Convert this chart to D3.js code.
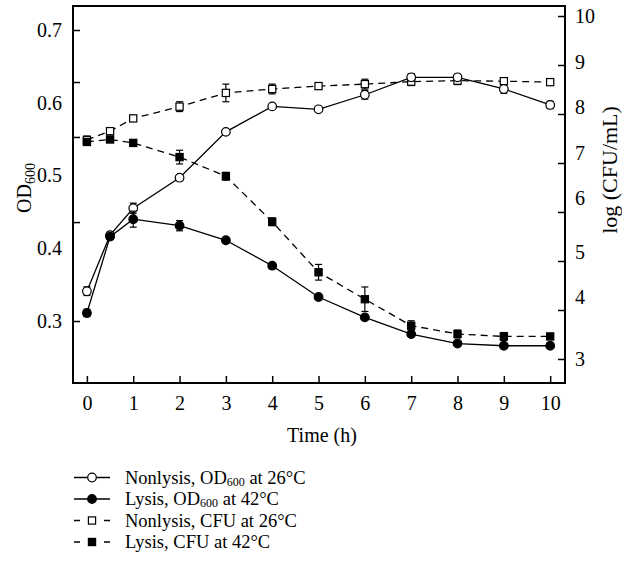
<!DOCTYPE html>
<html>
<head>
<meta charset="utf-8">
<script src="https://cdn.jsdelivr.net/npm/d3@7"></script>
<style>
body { margin: 0; background: #fff; }
svg { display: block; }
svg text { font-family: "Liberation Serif", Tinos, "Times New Roman", "DejaVu Serif", serif !important; fill: #000; }
</style>
</head>
<body>
<div id="main"></div>
<script>
// time points (h)
const hours = [0, 0.5, 1, 2, 3, 4, 5, 6, 7, 8, 9, 10]

// OD600 (left axis)
const nonlysisOD = [0.341, 0.418, 0.455, 0.497, 0.560, 0.595, 0.591, 0.611, 0.635, 0.635, 0.619, 0.597]
const nonlysisODErr = [0.006, 0.004, 0.007, 0.004, 0.003, 0.002, 0.002, 0.006, 0.005, 0.004, 0.006, 0.005]
const lysisOD = [0.311, 0.416, 0.440, 0.431, 0.411, 0.376, 0.333, 0.305, 0.282, 0.269, 0.266, 0.266]
const lysisODErr = [0.005, 0.004, 0.011, 0.007, 0.002, 0.004, 0.003, 0.003, 0.002, 0.002, 0.002, 0.002]

// log(CFU/mL) (right axis)
const nonlysisCFU = [7.47, 7.65, 7.91, 8.15, 8.43, 8.51, 8.57, 8.61, 8.66, 8.68, 8.67, 8.65]
const nonlysisCFUErr = [0.08, 0.06, 0.06, 0.10, 0.18, 0.10, 0.06, 0.10, 0.08, 0.08, 0.04, 0.03]
const lysisCFU = [7.43, 7.48, 7.41, 7.12, 6.73, 5.80, 4.77, 4.22, 3.68, 3.51, 3.46, 3.46]
const lysisCFUErr = [0.06, 0.04, 0.06, 0.14, 0.08, 0.08, 0.16, 0.25, 0.10, 0.08, 0.08, 0.06]

// axes ticks and labels
const xTicks = [0, 1, 2, 3, 4, 5, 6, 7, 8, 9, 10]
const leftLabels = [0.3, 0.4, 0.5, 0.6, 0.7]
const leftTickMarks = [0.3, 0.436, 0.553, 0.6285, 0.7]
const rightTicks = [3, 4, 5, 6, 7, 8, 9, 10]
const rightLabels = ["3", "4", "5", "6", "7", "8", "9", "10"]
const rightLabelPos = [3, 4.27, 5.18, 6.28, 7.2, 8.14, 9.06, 10]

const legendItems = [
    { pre: "Nonlysis, OD", sub: "600", post: " at 26\u00b0C", shape: "circle", filled: false, dashed: false },
    { pre: "Lysis, OD", sub: "600", post: " at 42\u00b0C", shape: "circle", filled: true, dashed: false },
    { pre: "Nonlysis, CFU at 26\u00b0C", sub: "", post: "", shape: "square", filled: false, dashed: true },
    { pre: "Lysis, CFU at 42\u00b0C", sub: "", post: "", shape: "square", filled: true, dashed: true }
]

const ctx = {
    w: 622,
    h: 571,
    left: 73,
    right: 565,
    top: 6,
    bottom: 383,
    fontSize: 20,
    font: "'Liberation Serif', Tinos, 'Times New Roman', 'DejaVu Serif', serif"
}

function drawMarker(g, shape, filled, cx, cy) {
    if (shape == "circle") {
        g.append("circle")
            .attr("cx", cx).attr("cy", cy).attr("r", 4.3)
            .attr("fill", filled ? "#000" : "#fff")
            .attr("stroke", "#000").attr("stroke-width", 1.2)
    } else {
        g.append("rect")
            .attr("x", cx - 3.6).attr("y", cy - 3.6)
            .attr("width", 7.2).attr("height", 7.2)
            .attr("fill", filled ? "#000" : "#fff")
            .attr("stroke", "#000").attr("stroke-width", 1.2)
    }
}

function drawSeries(canvas, x, y, values, errs, shape, filled, dashed) {
    let data = hours.map((t, i) => ({ t: t, v: values[i], e: errs[i] }))
    let g = canvas.append("g")

    g.append("path")
        .datum(data)
        .attr("fill", "none")
        .attr("stroke", "#000")
        .attr("stroke-width", 1.3)
        .attr("stroke-dasharray", dashed ? "7,5" : null)
        .attr("d", d3.line().x(d => x(d.t)).y(d => y(d.v)))

    // error bars
    data.forEach(d => {
        let cx = x(d.t)
        let y1 = y(d.v + d.e)
        let y2 = y(d.v - d.e)
        g.append("line").attr("x1", cx).attr("x2", cx).attr("y1", y1).attr("y2", y2)
            .attr("stroke", "#000").attr("stroke-width", 1.2)
        g.append("line").attr("x1", cx - 3.5).attr("x2", cx + 3.5).attr("y1", y1).attr("y2", y1)
            .attr("stroke", "#000").attr("stroke-width", 1.2)
        g.append("line").attr("x1", cx - 3.5).attr("x2", cx + 3.5).attr("y1", y2).attr("y2", y2)
            .attr("stroke", "#000").attr("stroke-width", 1.2)
    })

    data.forEach(d => drawMarker(g, shape, filled, x(d.t), y(d.v)))
}

function createViz() {
    let svg = d3.select("#main").append("svg")
        .attr("width", ctx.w)
        .attr("height", ctx.h)
        .attr("font-family", ctx.font)

    let x = d3.scaleLinear().domain([-0.3, 10.32]).range([ctx.left, ctx.right])
    let yL = d3.scaleLinear().domain([0.2148, 0.733]).range([ctx.bottom, ctx.top])
    let yR = d3.scaleLinear().domain([2.51, 10.204]).range([ctx.bottom, ctx.top])

    // tick marks pointing inward
    svg.append("g")
        .attr("transform", `translate(0,${ctx.bottom})`)
        .call(d3.axisTop(x).tickValues(xTicks).tickSize(7).tickFormat(""))
    svg.append("g")
        .attr("transform", `translate(${ctx.left},0)`)
        .call(d3.axisRight(yL).tickValues(leftTickMarks).tickSize(7).tickFormat(""))
    svg.append("g")
        .attr("transform", `translate(${ctx.right},0)`)
        .call(d3.axisLeft(yR).tickValues(rightTicks).tickSize(7).tickFormat(""))

    // tick labels
    svg.append("g")
        .attr("class", "lab")
        .attr("transform", `translate(0,${ctx.bottom})`)
        .call(d3.axisBottom(x).tickValues(xTicks).tickSize(0).tickPadding(13).tickFormat(d3.format("d")))
    svg.append("g")
        .attr("class", "lab")
        .attr("transform", `translate(${ctx.left},0)`)
        .call(d3.axisLeft(yL).tickValues(leftLabels).tickSize(0).tickPadding(11).tickFormat(d3.format(".1f")))
    svg.append("g")
        .attr("class", "lab")
        .attr("transform", `translate(${ctx.right},0)`)
        .call(d3.axisRight(yR).tickValues(rightLabelPos).tickSize(0).tickPadding(10)
            .tickFormat((d, i) => rightLabels[i]))

    svg.selectAll(".domain").remove()
    svg.selectAll("g").attr("font-family", ctx.font)
    svg.selectAll(".tick line").attr("stroke", "#000").attr("stroke-width", 1.5)
    svg.selectAll(".lab text")
        .attr("font-size", ctx.fontSize)
        .attr("fill", "#000")

    // frame
    svg.append("rect")
        .attr("x", ctx.left).attr("y", ctx.top)
        .attr("width", ctx.right - ctx.left).attr("height", ctx.bottom - ctx.top)
        .attr("fill", "none").attr("stroke", "#000").attr("stroke-width", 2)

    let canvas = svg.append("g")
    drawSeries(canvas, x, yR, nonlysisCFU, nonlysisCFUErr, "square", false, true)
    drawSeries(canvas, x, yR, lysisCFU, lysisCFUErr, "square", true, true)
    drawSeries(canvas, x, yL, nonlysisOD, nonlysisODErr, "circle", false, false)
    drawSeries(canvas, x, yL, lysisOD, lysisODErr, "circle", true, false)

    // axis titles
    svg.append("text")
        .attr("x", 322).attr("y", 442)
        .attr("text-anchor", "middle")
        .attr("font-size", ctx.fontSize)
        .text("Time (h)")

    let od = svg.append("text")
        .attr("transform", "translate(31,188) rotate(-90)")
        .attr("text-anchor", "middle")
        .attr("font-size", ctx.fontSize)
    od.append("tspan").text("OD")
    od.append("tspan").attr("font-size", 14).attr("dy", 4).text("600")

    svg.append("text")
        .attr("transform", "translate(617,170) rotate(-90)")
        .attr("text-anchor", "middle")
        .attr("font-size", 22)
        .text("log (CFU/mL)")

    // legend
    let legend = svg.append("g")
    legendItems.forEach((item, i) => {
        let cy = 477.5 + i * 21.5
        let row = legend.append("g")
        row.append("line")
            .attr("x1", 74).attr("x2", 110).attr("y1", cy).attr("y2", cy)
            .attr("stroke", "#000").attr("stroke-width", 1.3)
            .attr("stroke-dasharray", item.dashed ? "6,24" : null)
        drawMarker(row, item.shape, item.filled, 92, cy)
        let t = row.append("text")
            .attr("x", 125).attr("y", cy + 6)
            .attr("font-size", 18.5)
        t.append("tspan").text(item.pre)
        if (item.sub) {
            t.append("tspan").attr("font-size", 12).attr("baseline-shift", "-2").text(item.sub)
            t.append("tspan").text(item.post)
        }
    })
}

createViz()
</script>
</body>
</html>
